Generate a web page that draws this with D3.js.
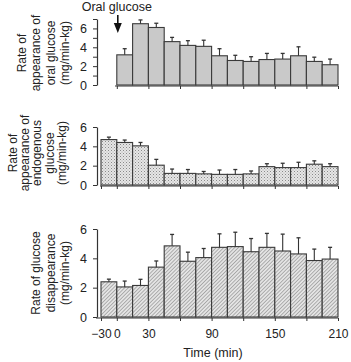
<!DOCTYPE html>
<html>
<head>
<meta charset="utf-8">
<script src="https://cdn.jsdelivr.net/npm/d3@7"></script>
<style>
  body { margin: 0; background: #fff; }
  svg { display: block; }
  text { font-family: "Liberation Sans", Arial, sans-serif; fill: #222; }
</style>
</head>
<body>
<div id="chart"></div>
<script>
// 15 time bins: -30..0, then 15-min bins from 0 to 210
const bins = d3.range(15);
const xTickBins = [0, 1, 3, 5, 7, 9, 11, 13, 15];
const xTickLabels = {0: "\u221230", 1: "0", 3: "30", 7: "90", 11: "150", 15: "210"};

// oral glucose Ra (no -30 bin)
const oralMean = [3.2, 6.5, 6.1, 4.6, 4.2, 4.1, 3.1, 2.6, 2.5, 2.7, 2.75, 3.1, 2.5, 2.15];
const oralErr  = [0.65, 0.4, 0.45, 0.45, 0.5, 0.65, 0.75, 0.55, 0.5, 0.65, 0.6, 0.95, 0.45, 0.6];
// endogenous glucose Ra
const endoMean = [4.7, 4.4, 4.05, 2.05, 1.2, 1.2, 1.15, 1.1, 1.1, 1.15, 1.9, 1.8, 1.8, 2.15, 1.9];
const endoErr  = [0.25, 0.25, 0.35, 0.6, 0.45, 0.4, 0.25, 0.45, 0.5, 0.3, 0.3, 0.45, 0.55, 0.35, 0.3];
// glucose Rd
const rdMean = [2.4, 2.05, 2.15, 3.4, 4.85, 3.8, 4.05, 4.75, 4.8, 4.45, 4.75, 4.5, 4.3, 3.85, 3.95];
const rdErr  = [0.18, 0.4, 0.42, 0.42, 0.78, 0.62, 0.62, 0.92, 0.98, 0.9, 0.95, 1.15, 1.1, 0.78, 0.8];

const width = 351, height = 362;
const svg = d3.select("#chart").append("svg")
    .attr("width", width)
    .attr("height", height);

// patterns
const defs = svg.append("defs");
const dots = defs.append("pattern")
    .attr("id", "dots").attr("patternUnits", "userSpaceOnUse")
    .attr("width", 3).attr("height", 3);
dots.append("rect").attr("width", 3).attr("height", 3).attr("fill", "#e6e6e6");
dots.append("rect").attr("x", 0).attr("y", 0).attr("width", 1).attr("height", 1).attr("fill", "#8a8a8a");
dots.append("rect").attr("x", 1.5).attr("y", 1.5).attr("width", 1).attr("height", 1).attr("fill", "#aaa");

const hatch = defs.append("pattern")
    .attr("id", "hatch").attr("patternUnits", "userSpaceOnUse")
    .attr("width", 2.6).attr("height", 2.6)
    .attr("patternTransform", "rotate(45)");
hatch.append("rect").attr("width", 2.6).attr("height", 2.6).attr("fill", "#e4e4e4");
hatch.append("line").attr("x1", 0).attr("y1", 0).attr("x2", 0).attr("y2", 2.6)
    .attr("stroke", "#6a6a6a").attr("stroke-width", 0.9);

const x = d3.scaleBand().domain(bins).range([101, 338]).paddingInner(0).paddingOuter(0);
const edge = i => 101 + i * x.step();

const panels = [
  {mean: oralMean, err: oralErr, offset: 1, y0: 85, y1: 19, max: 7, minor: true,
   fill: "#c9c9c9", axisStart: 115, title: ["Rate of", "appearance of", "oral glucose", "(mg/min-kg)"],
   tx: 65, ty: 53, lh: 14.5},
  {mean: endoMean, err: endoErr, offset: 0, y0: 185, y1: 127, max: 6, minor: false,
   fill: "url(#dots)", axisStart: 100, title: ["Rate of", "appearance of", "endogenous", "glucose", "(mg/min-kg)"],
   tx: 62, ty: 153, lh: 12.3},
  {mean: rdMean, err: rdErr, offset: 0, y0: 317, y1: 229, max: 6, minor: false,
   fill: "url(#hatch)", axisStart: 96, title: ["Rate of glucose", "disappearance", "(mg/min-kg)"],
   tx: 65, ty: 273, lh: 14.5}
];

panels.forEach((p, pi) => {
  const y = d3.scaleLinear().domain([0, p.max]).range([p.y0, p.y1]);
  const g = svg.append("g");

  // y axis
  const yAxis = d3.axisLeft(y)
      .tickValues(p.minor ? d3.range(0, p.max + 1) : [0, 2, 4, 6])
      .tickFormat(d => (d % 2 === 0 && d <= 6) ? d : "")
      .tickSize(4).tickSizeOuter(0).tickPadding(6);
  const ya = g.append("g").attr("transform", "translate(97,0)").call(yAxis);
  ya.select(".domain").attr("stroke", "#333").attr("stroke-width", 1.2);
  ya.selectAll(".tick line").attr("stroke", "#333");
  ya.selectAll("text").style("font-size", "12.5px").attr("fill", "#222");

  // x axis
  const xa = d3.axisBottom(d3.scaleLinear().domain([0, 15]).range([edge(0), edge(15)]))
      .tickValues(xTickBins.filter(b => b >= p.offset))
      .tickFormat(d => pi === 2 ? (xTickLabels[d] || "") : "")
      .tickSize(3).tickSizeOuter(0).tickPadding(8);
  const xg = g.append("g").attr("transform", `translate(0,${p.y0 + 1})`).call(xa);
  xg.select(".domain").attr("d", `M${p.axisStart},0H${edge(15)}`)
      .attr("stroke", "#333").attr("stroke-width", 1.2);
  xg.selectAll(".tick line").attr("stroke", "#333");
  xg.selectAll("text").style("font-size", "12px").attr("fill", "#222");

  // bars
  const data = p.mean.map((m, i) => ({bin: i + p.offset, m, e: p.err[i]}));
  g.selectAll("rect.bar").data(data).join("rect")
      .attr("class", "bar")
      .attr("x", d => x(d.bin))
      .attr("width", x.bandwidth())
      .attr("y", d => y(d.m))
      .attr("height", d => y(0) - y(d.m))
      .attr("fill", p.fill)
      .attr("stroke", "#3a3a3a")
      .attr("stroke-width", 1.1);

  // error bars
  const cx = d => x(d.bin) + x.bandwidth() / 2;
  g.selectAll("line.err").data(data).join("line")
      .attr("class", "err")
      .attr("x1", cx).attr("x2", cx)
      .attr("y1", d => y(d.m)).attr("y2", d => y(d.m + d.e))
      .attr("stroke", "#333").attr("stroke-width", 1.1);
  g.selectAll("line.cap").data(data).join("line")
      .attr("class", "cap")
      .attr("x1", d => cx(d) - 2).attr("x2", d => cx(d) + 2)
      .attr("y1", d => y(d.m + d.e)).attr("y2", d => y(d.m + d.e))
      .attr("stroke", "#333").attr("stroke-width", 1.3);

  // y title
  const n = p.title.length;
  const t = g.append("text")
      .attr("transform", `translate(${p.tx},${p.ty}) rotate(-90)`)
      .attr("text-anchor", "middle")
      .style("font-size", "12px");
  p.title.forEach((line, i) => {
    t.append("tspan").attr("x", 0)
      .attr("y", -(n - 1 - i) * p.lh + 4)
      .text(line);
  });
});

// x title
svg.append("text")
    .attr("x", 213).attr("y", 357)
    .attr("text-anchor", "middle")
    .style("font-size", "12.5px")
    .text("Time (min)");

// oral glucose marker
const ax = edge(1) + 1;
svg.append("text")
    .attr("x", ax - 1).attr("y", 11)
    .attr("text-anchor", "middle")
    .style("font-size", "12.5px")
    .text("Oral glucose");
svg.append("line")
    .attr("x1", ax).attr("x2", ax).attr("y1", 15).attr("y2", 26)
    .attr("stroke", "#111").attr("stroke-width", 1.6);
svg.append("path")
    .attr("d", `M${ax - 4},23L${ax + 4},23L${ax},33Z`)
    .attr("fill", "#111");
</script>
</body>
</html>
